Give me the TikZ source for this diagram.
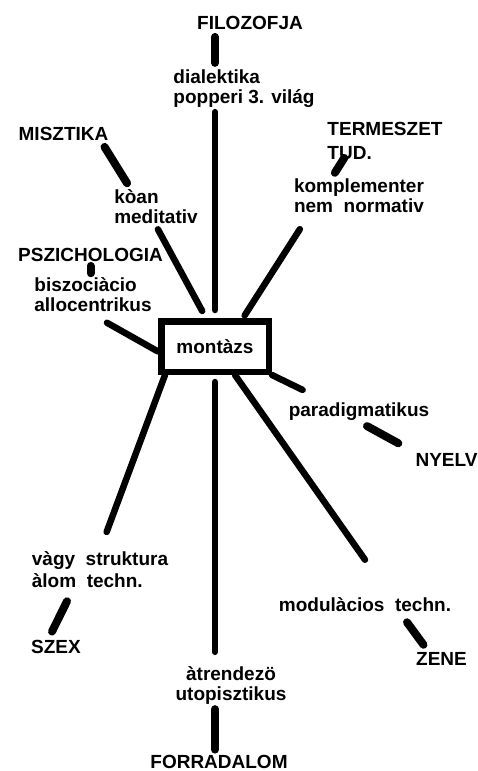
\documentclass[tikz,border=0pt]{standalone}
\usepackage{fontspec}
\setmainfont{Liberation Sans}

\begin{document}
\begin{tikzpicture}[
    x=1pt, y=-1pt,
    lbl/.style={font=\fontsize{19}{20}\selectfont\bfseries, inner sep=2pt, align=left},
    ctr/.style={lbl, align=center},
    box/.style={rectangle, draw=black, line width=6.5pt, minimum width=107.5pt, minimum height=50.5pt, inner sep=2pt, font=\fontsize{19}{20}\selectfont\bfseries},
    spoke/.style={draw=black, line width=6.5pt, line cap=round},
    stub/.style={draw=black, line width=8pt, line cap=round}
]
    \useasboundingbox (0, 0) rectangle (477, 771);

    % Centre
    \node (mont) at (215, 346.5) [box] {montàzs};

    % Upper half: domains and their keywords
    \node (filo) at (250, 23) [lbl] {FILOZOFJA};
    \node (dial) at (244, 89) [lbl] {dialektika\\popperi 3. világ};
    \node (misz) at (63.5, 134) [lbl] {MISZTIKA};
    \node (koan) at (156, 206.5) [lbl] {kòan\\meditativ};
    \node (term) at (385, 141) [lbl] {TERMESZET\\[4pt]TUD.};
    \node (komp) at (359, 196) [lbl] {komplementer\\nem~~normativ};
    \node (psz) at (90.5, 255) [lbl] {PSZICHOLOGIA};
    \node (bisz) at (93, 294.5) [lbl] {biszociàcio\\allocentrikus};

    % Lower half: domains and their keywords
    \node (para) at (359, 412) [lbl] {paradigmatikus};
    \node (nyelv) at (446.5, 460) [lbl] {NYELV};
    \node (vagy) at (100, 570) [lbl] {vàgy~~struktura\\[2pt]àlom~~techn.};
    \node (szex) at (56, 646.5) [lbl] {SZEX};
    \node (modul) at (365, 605) [lbl] {modulàcios~~techn.};
    \node (zene) at (441.5, 658.5) [lbl] {ZENE};
    \node (atr) at (231, 685) [ctr] {àtrendezö\\utopisztikus};
    \node (forr) at (219, 761.5) [lbl] {FORRADALOM};

    % Spokes to the centre box
    \draw [spoke, shorten <=2pt, shorten >=8pt] (dial.south -| mont.north) -- (mont.north);
    \draw [spoke, shorten <=4pt, shorten >=8pt] (koan.south) -- ([xshift=-9pt]mont.north);
    \draw [spoke, shorten >=3pt] ([xshift=8pt, yshift=-14pt]komp.south west) -- ([xshift=28pt]mont.north);
    \draw [spoke] ([xshift=14pt, yshift=-9pt]bisz.south) -- ([yshift=-5pt]mont.west);
    \draw [spoke, shorten >=19pt] ([xshift=-50pt]mont.south) -- (vagy.north);
    \draw [spoke, shorten <=7pt, shorten >=12pt] (mont.south) -- (atr.north -| mont.south);
    \draw [spoke] ([xshift=20pt]mont.south) -- ([yshift=36pt]modul.north);
    \draw [spoke] (mont.south east) -- ([xshift=16pt, yshift=11pt]para.north west);

    % Short stubs between domain and keyword
    \draw [stub, shorten <=5pt, shorten >=5pt] (filo.south -| mont.north) -- (dial.north -| mont.north);
    \draw [stub] ([xshift=-6pt, yshift=-4pt]misz.south east) -- ([xshift=15pt, yshift=4pt]koan.north west);
    \draw [stub] ([xshift=19pt, yshift=4pt]term.south west) -- ([xshift=43pt, yshift=4pt]komp.north west);
    \draw [stub, shorten <=2pt, shorten >=2pt] (psz.south) -- (bisz.north -| psz.south);
    \draw [stub] ([xshift=8pt, yshift=-3pt]para.south) -- ([xshift=-15pt, yshift=8pt]nyelv.north west);
    \draw [stub] ([xshift=-33pt, yshift=-11pt]vagy.south) -- ([xshift=-4pt, yshift=6pt]szex.north);
    \draw [stub] ([xshift=42pt, yshift=-8pt]modul.south) -- ([xshift=-18pt, yshift=5pt]zene.north);
    \draw [stub, shorten <=3pt, shorten >=3pt] (atr.south -| mont.south) -- (forr.north -| mont.south);

\end{tikzpicture}
\end{document}
